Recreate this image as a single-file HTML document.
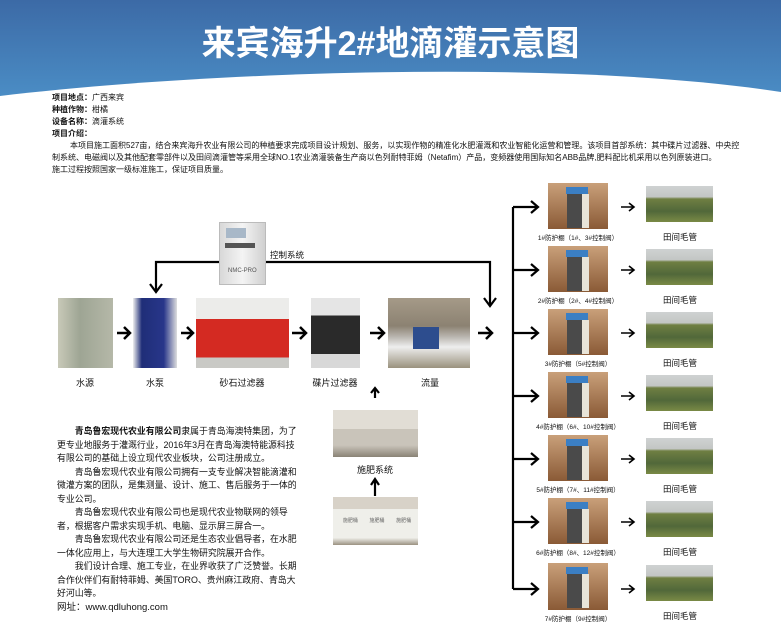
<!DOCTYPE html>
<html><head><meta charset="utf-8">
<style>
*{margin:0;padding:0;box-sizing:border-box}
body{width:781px;height:639px;position:relative;overflow:hidden;background:#fff;font-family:"Liberation Sans","Noto Sans CJK SC",sans-serif;color:#111}
.a{position:absolute}
.hdr{left:0;top:0;width:781px;height:100px;background:linear-gradient(#3c6aa6,#4b8ec6)}
.title{left:0;top:24px;width:781px;text-align:center;color:#fff;font-size:34px;font-weight:bold;line-height:40px}
.info{font-size:8px;line-height:12px;left:52px;width:735px}
.lbl{font-size:9px;text-align:center}
.sm{font-size:6.5px;text-align:center;width:100px}
.photo{position:absolute}
.cab{background:linear-gradient(#c9a07a,#8a5a36);}
.cab::before{content:"";position:absolute;left:18px;top:4px;width:22px;height:7px;background:#3b7fc4}
.cab::after{content:"";position:absolute;left:19px;top:11px;width:15px;height:34px;background:#4a4a4a;border-right:7px solid #e8e4d8}
.field{background:linear-gradient(#cfd2d2 0%,#c3c6c4 30%,#6f7f42 36%,#51683a 70%,#7a8a45 100%)}
p.t{text-indent:2em}
</style></head><body>
<div class="a hdr"></div>
<svg class="a" style="left:0;top:0" width="781" height="110"><path d="M0 96 C200 72 560 58 781 92 L781 110 L0 110Z" fill="#fff"/></svg>
<div class="a title">来宾海升2#地滴灌示意图</div>
<div class="a info" style="top:92px">
<b>项目地点：</b>广西来宾<br><b>种植作物：</b>柑橘<br><b>设备名称：</b>滴灌系统<br><b>项目介绍：</b><br>
<span style="padding-left:18px">本项目施工面积527亩，结合来宾海升农业有限公司的种植要求完成项目设计规划、服务，以实现作物的精准化水肥灌溉和农业智能化运营和管理。该项目首部系统：其中碟片过滤器、中央控</span><br>
制系统、电磁阀以及其他配套零部件以及田间滴灌管等采用全球NO.1农业滴灌装备生产商以色列耐特菲姆（Netafim）产品，变频器使用国际知名ABB品牌,肥料配比机采用以色列原装进口。<br>
施工过程按照国家一级标准施工，保证项目质量。</div>

<div class="photo" style="left:219px;top:222px;width:47px;height:63px;background:linear-gradient(90deg,#d8d8d8,#f4f4f4,#d0d0d0);border:1px solid #bbb"></div>
<div class="photo" style="left:226px;top:228px;width:20px;height:10px;background:#a8b8c8"></div>
<div class="photo" style="left:225px;top:243px;width:30px;height:5px;background:#555"></div>
<div class="a" style="left:228px;top:268px;font-size:6px;color:#555">NMC-PRO</div>
<div class="a" style="left:270px;top:249px;font-size:8.5px">控制系统</div>

<div class="photo" style="left:58px;top:298px;width:55px;height:70px;background:linear-gradient(90deg,#c8c9b8,#9ea594 40%,#b5b8a8)"></div>
<div class="photo" style="left:133px;top:298px;width:44px;height:70px;background:linear-gradient(90deg,#eee,#1f2e78 20%,#28368a 70%,#ddd)"></div>
<div class="photo" style="left:196px;top:298px;width:93px;height:70px;background:linear-gradient(#ececea 0 30%,#d42a22 30% 85%,#c9c9c5 85%)"></div>
<div class="photo" style="left:311px;top:298px;width:49px;height:70px;background:linear-gradient(#e5e5e5 0 25%,#2a2a2a 25% 80%,#d8d8d8 80%)"></div>
<div class="photo" style="left:388px;top:298px;width:82px;height:70px;background:linear-gradient(#a59a88,#8c8272 40%,#b8b4ae 55%,#eee 70%,#9a927e)"></div>
<div class="photo" style="left:413px;top:327px;width:26px;height:22px;background:#2d4d8e"></div>

<div class="a lbl" style="left:55px;top:376px;width:60px">水源</div>
<div class="a lbl" style="left:125px;top:376px;width:60px">水泵</div>
<div class="a lbl" style="left:212px;top:376px;width:60px">砂石过滤器</div>
<div class="a lbl" style="left:305px;top:376px;width:60px">碟片过滤器</div>
<div class="a lbl" style="left:400px;top:376px;width:60px">流量</div>

<svg class="a" style="left:0;top:0" width="781" height="639" fill="none" stroke="#000" stroke-width="2.2">
<path d="M219 262 H156 V291 M266 262 H490 V305"/>
<path d="M150 284 L156 292 L162 284 M484 298 L490 306 L496 298"/>
<g stroke-width="2.5">
<path d="M117 333 H128 M124 327 L130 333 L124 339"/>
<path d="M181 333 H192 M187 327 L193 333 L187 339"/>
<path d="M292 333 H305 M300 327 L306 333 L300 339"/>
<path d="M370 333 H383 M378 327 L384 333 L378 339"/>
<path d="M478 333 H491 M486 327 L492 333 L486 339"/>
</g>
<path d="M375 398 V389 M371 393 L375 388 L379 393"/>
<path d="M375 496 V480 M371 485 L375 479 L379 485"/>
<path d="M513 207 V589"/>
<g id="br">
<path d="M513 207 H537 M531 201 L538 207 L531 213"/>
<path d="M621 207 H633 M629 203 L634 207 L629 211" stroke-width="1.6"/>
</g>
<use href="#br" y="63"/><use href="#br" y="126"/><use href="#br" y="189"/><use href="#br" y="252"/><use href="#br" y="315"/><use href="#br" y="382"/>
</svg>

<div class="a lbl" style="left:345px;top:463px;width:60px">施肥系统</div>
<div class="photo" style="left:333px;top:410px;width:85px;height:47px;background:linear-gradient(#e1ddd5 0 40%,#c9c4ba 40% 75%,#8a8376)"></div>
<div class="photo" style="left:333px;top:497px;width:85px;height:48px;background:linear-gradient(#d8d2c8 0 25%,#efefea 25% 85%,#9b9281)"></div>
<div class="a" style="left:337px;top:517px;font-size:5px;width:80px;display:flex;justify-content:space-around;color:#666"><span>施肥桶</span><span>施肥桶</span><span>施肥桶</span></div>

<div class="photo cab" style="left:548px;top:183px;width:60px;height:46px"></div>
<div class="photo cab" style="left:548px;top:246px;width:60px;height:46px"></div>
<div class="photo cab" style="left:548px;top:309px;width:60px;height:46px"></div>
<div class="photo cab" style="left:548px;top:372px;width:60px;height:46px"></div>
<div class="photo cab" style="left:548px;top:435px;width:60px;height:46px"></div>
<div class="photo cab" style="left:548px;top:498px;width:60px;height:46px"></div>
<div class="photo cab" style="left:548px;top:563px;width:60px;height:47px"></div>

<div class="photo field" style="left:646px;top:186px;width:67px;height:36px"></div>
<div class="photo field" style="left:646px;top:249px;width:67px;height:36px"></div>
<div class="photo field" style="left:646px;top:312px;width:67px;height:36px"></div>
<div class="photo field" style="left:646px;top:375px;width:67px;height:36px"></div>
<div class="photo field" style="left:646px;top:438px;width:67px;height:36px"></div>
<div class="photo field" style="left:646px;top:501px;width:67px;height:36px"></div>
<div class="photo field" style="left:646px;top:565px;width:67px;height:36px"></div>

<div class="a sm" style="left:528px;top:232px">1#防护棚（1#、3#控制阀）</div>
<div class="a sm" style="left:528px;top:295px">2#防护棚（2#、4#控制阀）</div>
<div class="a sm" style="left:528px;top:358px">3#防护棚（5#控制阀）</div>
<div class="a sm" style="left:528px;top:421px">4#防护棚（6#、10#控制阀）</div>
<div class="a sm" style="left:528px;top:484px">5#防护棚（7#、11#控制阀）</div>
<div class="a sm" style="left:528px;top:547px">6#防护棚（8#、12#控制阀）</div>
<div class="a sm" style="left:528px;top:613px">7#防护棚（9#控制阀）</div>

<div class="a lbl" style="left:650px;top:231px;width:60px;font-size:8.5px">田间毛管</div>
<div class="a lbl" style="left:650px;top:294px;width:60px;font-size:8.5px">田间毛管</div>
<div class="a lbl" style="left:650px;top:357px;width:60px;font-size:8.5px">田间毛管</div>
<div class="a lbl" style="left:650px;top:420px;width:60px;font-size:8.5px">田间毛管</div>
<div class="a lbl" style="left:650px;top:483px;width:60px;font-size:8.5px">田间毛管</div>
<div class="a lbl" style="left:650px;top:546px;width:60px;font-size:8.5px">田间毛管</div>
<div class="a lbl" style="left:650px;top:610px;width:60px;font-size:8.5px">田间毛管</div>

<div class="a" style="left:57px;top:425px;width:243px;font-size:8.9px;line-height:13.5px">
<p class="t"><b>青岛鲁宏现代农业有限公司</b>隶属于青岛海澳特集团，为了更专业地服务于灌溉行业，2016年3月在青岛海澳特能源科技有限公司的基础上设立现代农业板块，公司注册成立。</p>
<p class="t">青岛鲁宏现代农业有限公司拥有一支专业解决智能滴灌和微灌方案的团队，是集测量、设计、施工、售后服务于一体的专业公司。</p>
<p class="t">青岛鲁宏现代农业有限公司也是现代农业物联网的领导者，根据客户需求实现手机、电脑、显示屏三屏合一。</p>
<p class="t">青岛鲁宏现代农业有限公司还是生态农业倡导者，在水肥一体化应用上，与大连理工大学生物研究院展开合作。</p>
<p class="t">我们设计合理、施工专业，在业界收获了广泛赞誉。长期合作伙伴们有耐特菲姆、美国TORO、贵州麻江政府、青岛大好河山等。</p>
<p style="font-size:9.5px">网址：www.qdluhong.com</p>
</div>
</body></html>
